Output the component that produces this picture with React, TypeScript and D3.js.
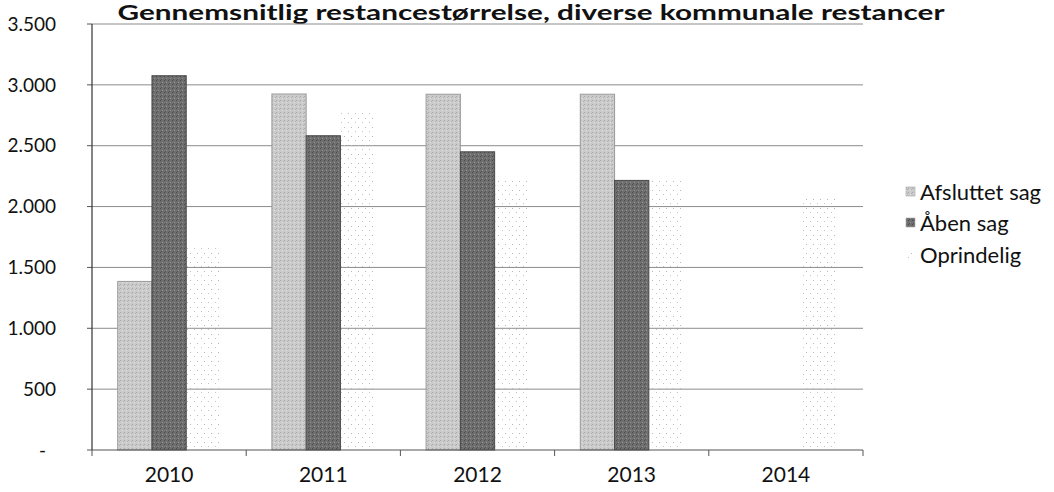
import React from "react";
import * as d3 from "d3";

const years = ["2010", "2011", "2012", "2013", "2014"];
const seriesNames = ["Afsluttet sag", "Åben sag", "Oprindelig"];
const afsluttet = [1385, 2925, 2923, 2923, 0];
const aaben = [3075, 2582, 2450, 2215, 0];
const oprindelig = [1680, 2770, 2230, 2230, 2080];
const yTicks = [0, 500, 1000, 1500, 2000, 2500, 3000, 3500];
const title = "Gennemsnitlig restancestørrelse, diverse kommunale restancer";

const W = 1054;
const H = 492;
const FONT = "Lato, 'Open Sans', sans-serif";

const fmt = (v: number) => (v === 0 ? "-" : d3.format(",")(v).replace(/,/g, "."));

export default function App() {
  const x = d3.scaleBand<string>().domain(years).range([92, 863]).padding(0);
  const xi = d3
    .scaleBand<string>()
    .domain(seriesNames)
    .range([0, x.bandwidth()])
    .paddingInner(0)
    .paddingOuter(0.75);
  const y = d3.scaleLinear().domain([0, 3500]).range([450, 24]);
  const data = [afsluttet, aaben, oprindelig];
  const fills = ["url(#pLight)", "url(#pDark)", "url(#pDots)"];
  const strokes = ["#9a9a9a", "#4a4a4a", "none"];
  const legendY = [192, 223, 255];

  return (
    <svg
      width={W}
      height={H}
      style={{ position: "absolute", left: 0, top: 0, background: "#fff" }}
      fontFamily={FONT}
    >
      <defs>
        <pattern id="pLight" width="4" height="4" patternUnits="userSpaceOnUse">
          <rect width="4" height="4" fill="#cbcbcb" />
          <rect x="0" y="0" width="1" height="1" fill="#a8a8a8" />
          <rect x="2" y="2" width="1" height="1" fill="#e2e2e2" />
          <rect x="3" y="1" width="1" height="1" fill="#b0b0b0" />
        </pattern>
        <pattern id="pDark" width="4" height="4" patternUnits="userSpaceOnUse">
          <rect width="4" height="4" fill="#6f6f6f" />
          <rect x="0" y="0" width="1" height="1" fill="#4a4a4a" />
          <rect x="2" y="2" width="1" height="1" fill="#909090" />
          <rect x="1" y="3" width="1" height="1" fill="#555" />
        </pattern>
        <pattern id="pDots" width="7" height="9" patternUnits="userSpaceOnUse">
          <rect x="1" y="1" width="1" height="1" fill="#b8b8b8" />
          <rect x="5" y="5" width="1" height="1" fill="#c4c4c4" />
        </pattern>
      </defs>

      <text
        x={531}
        y={20}
        textAnchor="middle"
        fontWeight="bold"
        fontSize={20}
        textLength={827}
        lengthAdjust="spacingAndGlyphs"
        fill="#111"
      >
        {title}
      </text>

      {yTicks.map((t) => (
        <g key={t}>
          {t > 0 && (
            <line x1={92} x2={863} y1={y(t)} y2={y(t)} stroke="#8c8c8c" strokeWidth={1} />
          )}
          <line x1={87} x2={92} y1={y(t)} y2={y(t)} stroke="#555" strokeWidth={1} />
          <text
            x={t === 0 ? 46 : 56}
            y={y(t)}
            dy="0.35em"
            textAnchor="end"
            fontSize={19}
            fill="#111"
          >
            {fmt(t)}
          </text>
        </g>
      ))}

      {data.map((vals, si) =>
        years.map((yr, i) =>
          vals[i] > 0 ? (
            <rect
              key={`${si}-${yr}`}
              x={(x(yr) as number) + (xi(seriesNames[si]) as number)}
              y={y(vals[i])}
              width={xi.bandwidth()}
              height={y(0) - y(vals[i])}
              fill={fills[si]}
              stroke={strokes[si]}
              strokeWidth={1}
            />
          ) : null
        )
      )}

      <line x1={92} x2={92} y1={y(3500)} y2={y(0)} stroke="#333" strokeWidth={1.2} />
      <line x1={92} x2={863} y1={y(0)} y2={y(0)} stroke="#555" strokeWidth={1} />
      {[...years.map((yr) => x(yr) as number), 863].map((xx, i) => (
        <line key={i} x1={xx} x2={xx} y1={450} y2={456} stroke="#555" strokeWidth={1} />
      ))}
      {years.map((yr) => (
        <text
          key={yr}
          x={(x(yr) as number) + x.bandwidth() / 2}
          y={475}
          dy="0.35em"
          textAnchor="middle"
          fontSize={21}
          fill="#111"
        >
          {yr}
        </text>
      ))}

      {seriesNames.map((s, i) => (
        <g key={s}>
          <rect
            x={906}
            y={legendY[i] - 5}
            width={9}
            height={9}
            fill={fills[i]}
            stroke={i === 2 ? "none" : "#999"}
            strokeWidth={0.5}
          />
          <text x={920} y={legendY[i]} dy="0.35em" fontSize={22} fill="#111">
            {s}
          </text>
        </g>
      ))}
    </svg>
  );
}
